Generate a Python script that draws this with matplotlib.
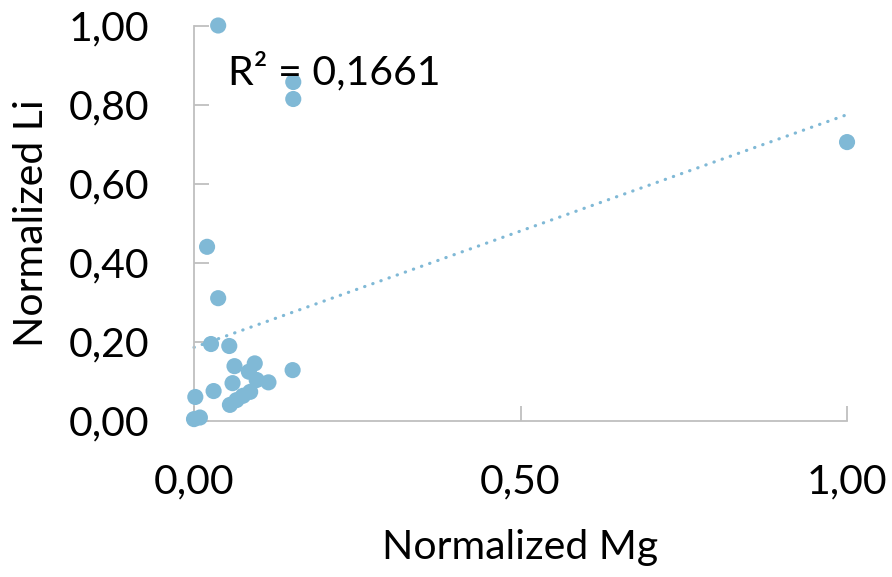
import numpy as np
import matplotlib
matplotlib.use("Agg")
import matplotlib.pyplot as plt

# normalized values
mg = [0.037, 0.152, 0.152, 1.000, 0.020, 0.037, 0.026, 0.054, 0.062, 0.093,
      0.084, 0.151, 0.059, 0.030, 0.114, 0.096, 0.086, 0.075, 0.065, 0.055,
      0.002, 0.000, 0.009]
li = [1.000, 0.857, 0.814, 0.705, 0.440, 0.310, 0.194, 0.189, 0.138, 0.145,
      0.124, 0.128, 0.095, 0.075, 0.097, 0.103, 0.073, 0.063, 0.052, 0.040,
      0.060, 0.004, 0.008]
x_ticks = [0.0, 0.5, 1.0]
y_ticks = [0.0, 0.2, 0.4, 0.6, 0.8, 1.0]
r2_label = "R² = 0,1661"

plt.rcParams['font.family'] = ['Lato', 'DejaVu Sans']
color = '#80B9D6'
grey = '#BFBFBF'
fs = 29.5

fig = plt.figure(figsize=(8.92, 5.77), dpi=100)
ax = fig.add_axes([0.2175, 0.2709, 0.7321, 0.6849])

ax.scatter(mg, li, s=135, color=color, edgecolors='none', clip_on=False, zorder=3)

# linear trendline
slope, intercept = np.polyfit(mg, li, 1)
xs = np.array([0.0, 1.0])
ax.plot(xs, slope * xs + intercept, linestyle=(0, (0.1, 2.6)), color=color,
        linewidth=2.3, dash_capstyle='round', clip_on=False, zorder=2)

ax.text(0.052, 0.85, r2_label, fontsize=fs, va='baseline', ha='left')

ax.set_xlim(0, 1)
ax.set_ylim(0, 1)
ax.set_xticks(x_ticks)
ax.set_yticks(y_ticks)
ax.set_xticklabels([f"{v:.2f}".replace('.', ',') for v in x_ticks])
ax.set_yticklabels([f"{v:.2f}".replace('.', ',') for v in y_ticks])

for side in ['top', 'right']:
    ax.spines[side].set_visible(False)
for side in ['left', 'bottom']:
    ax.spines[side].set_color(grey)
    ax.spines[side].set_linewidth(1.3)

ax.tick_params(axis='both', direction='in', length=11, width=1.3, color=grey,
               labelsize=fs)
ax.tick_params(axis='y', pad=32)
ax.tick_params(axis='x', pad=31)

ax.set_xlabel("Normalized Mg", fontsize=fs)
ax.set_ylabel("Normalized Li", fontsize=fs)
ax.xaxis.set_label_coords(0.5, -0.275)
ax.yaxis.set_label_coords(-0.22, 0.5)

fig.savefig("out.png", dpi=100)
